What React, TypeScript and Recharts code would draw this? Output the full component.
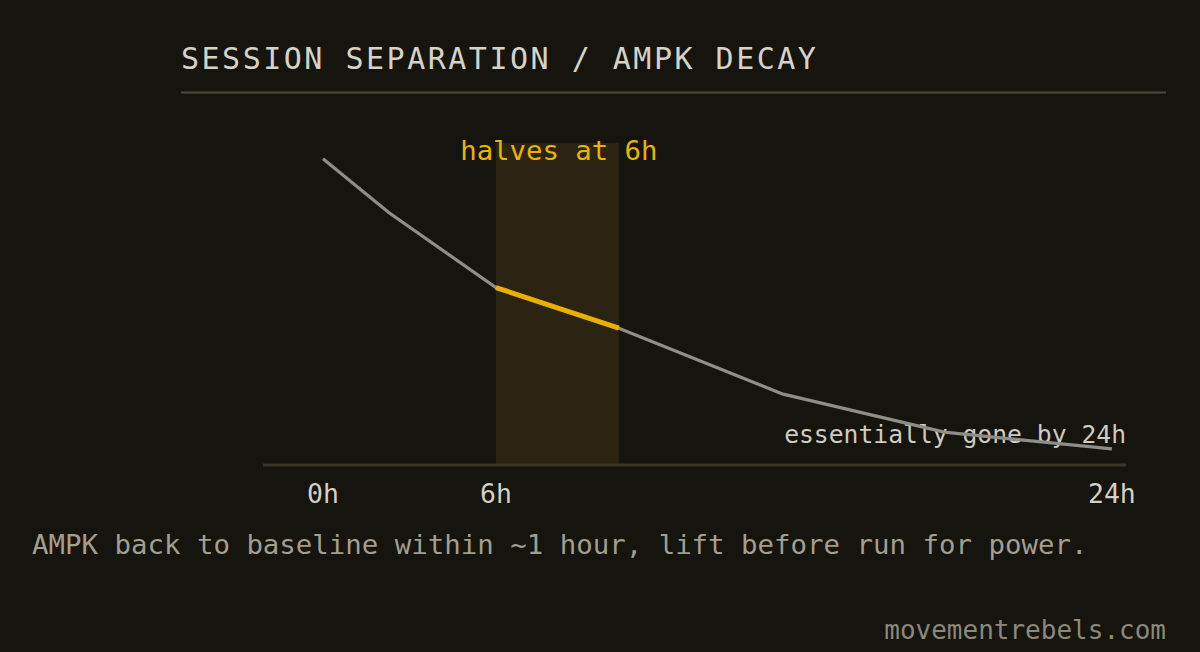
import { LineChart, Line, XAxis, YAxis, ReferenceArea } from 'recharts'

// x is in "chart hours" as laid out on the reference (0h and 24h labels are at the ends)
const hours = [0, 2, 5.26, 9, 14, 18.9, 24]
const ampk = [95.1, 78.4, 55.1, 42.5, 22, 10.2, 5]
const highlighted = [false, false, true, true, false, false, false]

const tickValues = [0, 5.26, 24]
const tickLabels = ['0h', '6h', '24h']

const bandStart = 5.26
const bandEnd = 9

const title = 'SESSION SEPARATION / AMPK DECAY'
const bandLabel = 'halves at 6h'
const endNote = 'essentially gone by 24h'
const footnote = 'AMPK back to baseline within ~1 hour, lift before run for power.'
const credit = 'movementrebels.com'

const data = hours.map((h, i) => ({
  h,
  ampk: ampk[i],
  hot: highlighted[i] ? ampk[i] : null,
}))

const MONO = '"DejaVu Sans Mono", monospace'
const BG = '#15140f'

function Tick({ x, y, payload }: { x?: number; y?: number; payload?: { value: number } }) {
  const i = tickValues.indexOf(payload?.value ?? -1)
  return (
    <text
      x={x}
      y={(y ?? 0) + 38}
      textAnchor="middle"
      fontFamily={MONO}
      fontSize={26.5}
      fill="#d4d0c4"
    >
      {tickLabels[i] ?? ''}
    </text>
  )
}

function BandLabel({ viewBox }: { viewBox?: { x: number; y: number; width: number } }) {
  if (!viewBox) return null
  return (
    <text
      x={viewBox.x + viewBox.width / 2 + 1.5}
      y={viewBox.y + 16.6}
      textAnchor="middle"
      fontFamily={MONO}
      fontSize={27.3}
      fill="#eab300"
    >
      {bandLabel}
    </text>
  )
}

export default function App() {
  return (
    <div style={{ position: 'relative', width: 1200, height: 652, background: BG }}>
      <style>{`body{margin:0;background:${BG}}`}</style>
      <svg
        width={1200}
        height={652}
        style={{ position: 'absolute', left: 0, top: 0 }}
      >
        <text x={181} y={69} fontFamily={MONO} fontSize={30} letterSpacing={2.5} fill="#d6d2c4">
          {title}
        </text>
        <rect x={181} y={91.5} width={985} height={2} fill="#4d493a" />
        <text x={1126} y={443} textAnchor="end" fontFamily={MONO} fontSize={24.7} fill="#cfcbbf">
          {endNote}
        </text>
        <text x={32} y={554} fontFamily={MONO} fontSize={27.4} fill="#a29e90">
          {footnote}
        </text>
        <text x={1166} y={639} textAnchor="end" fontFamily={MONO} fontSize={26} fill="#8c887a">
          {credit}
        </text>
      </svg>
      <div style={{ position: 'absolute', left: 0, top: 0 }}>
        <LineChart
          width={1200}
          height={652}
          data={data}
          margin={{ top: 143, right: 74, bottom: 157, left: 263 }}
        >
          <ReferenceArea
            x1={bandStart}
            x2={bandEnd}
            fill="#2b2413"
            fillOpacity={1}
            stroke="none"
            label={<BandLabel />}
          />
          <XAxis
            dataKey="h"
            type="number"
            domain={[-1.825, 24.43]}
            ticks={tickValues}
            allowDataOverflow
            axisLine={{ stroke: '#3b3528', strokeWidth: 3 }}
            tickLine={false}
            tickSize={0}
            tickMargin={0}
            height={30}
            tick={<Tick />}
            interval={0}
          />
          <YAxis hide domain={[0, 100]} />
          <Line
            type="linear"
            dataKey="ampk"
            stroke="#8f8d88"
            strokeWidth={3.2}
            dot={false}
            activeDot={false}
            isAnimationActive={false}
          />
          <Line
            type="linear"
            dataKey="hot"
            stroke="#e9b000"
            strokeWidth={5}
            dot={false}
            activeDot={false}
            connectNulls={false}
            isAnimationActive={false}
          />
        </LineChart>
      </div>
    </div>
  )
}
